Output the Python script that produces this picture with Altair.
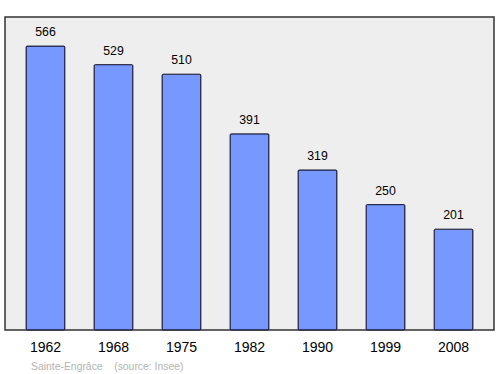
import altair as alt
import pandas as pd

years = ["1962", "1968", "1975", "1982", "1990", "1999", "2008"]
population = [566, 529, 510, 391, 319, 250, 201]
footer_text = ["Sainte-Engrâce\u00a0\u00a0\u00a0\u00a0(source: Insee)"]

df = pd.DataFrame({"year": years, "pop": population})

FONT = "Liberation Sans"

x = alt.X("year:N", sort=years, title=None,
          scale=alt.Scale(paddingInner=0.43, paddingOuter=0.31),
          axis=alt.Axis(labelAngle=0, labelFontSize=14, labelFont=FONT,
                        labelColor="#000", labelPadding=10, ticks=False,
                        domain=False))
y = alt.Y("pop:Q", title=None, scale=alt.Scale(domain=[0, 624], nice=False),
          axis=None)

bars = alt.Chart(df).mark_bar(color="#7799ff", stroke="#1a1a3a",
                              strokeWidth=1, cornerRadius=1).encode(x=x, y=y)
labels = alt.Chart(df).mark_text(fontSize=12.3, font=FONT, dy=-10,
                                 baseline="alphabetic", color="#000").encode(
    x=x, y=y, text="pop:Q")
footer = alt.Chart(pd.DataFrame({"t": footer_text})).mark_text(
    fontSize=10.4, font=FONT, color="#b3b3b3", align="left", baseline="middle",
    clip=False).encode(x=alt.value(26), y=alt.value(349.5), text="t:N")

chart = alt.layer(bars, labels, footer).properties(
    width=489, height=313,
    autosize=alt.AutoSizeParams(type="none"),
    padding={"left": 5, "top": 17, "right": 6, "bottom": 44},
    background="white",
).configure_view(fill="#eeeeee", stroke="#333333", strokeWidth=1.5)

chart.save("out.html", embed_options={"renderer": "svg", "actions": False})
